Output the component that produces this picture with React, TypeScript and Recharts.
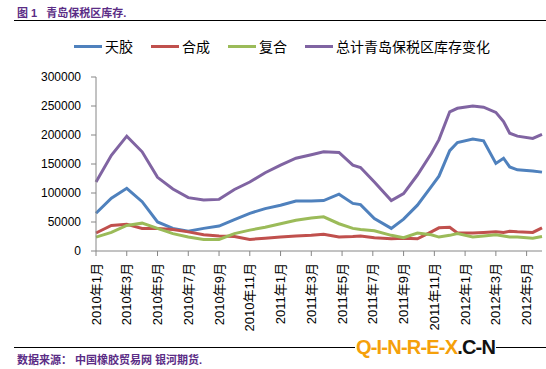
import { LineChart, Line, XAxis, YAxis } from 'recharts'

// month index from 2010年1月 (0) — points after spring 2011 are not strictly monthly
const months = [0, 1, 2, 3, 4, 5, 6, 7, 8, 9, 10, 11, 12, 13, 14, 14.8, 15.8, 16.7, 17.2, 18.1, 19.2, 20, 20.9, 21.8, 22.3, 23, 23.5, 24.5, 25.2, 26, 26.5, 26.9, 27.4, 28.4, 29]
const natural = [65, 91, 108, 85, 50, 39, 34, 39, 43, 54, 65, 73, 79, 86, 86, 87, 98, 82, 80, 56, 39, 55, 79, 111, 129, 173, 187, 193, 190, 151, 160, 145, 140, 138, 136]
const synthetic = [31, 44, 46, 39, 39, 37, 33, 28, 26, 25, 20, 22, 24, 26, 27, 29, 24, 25, 26, 23, 21, 22, 21, 33, 40, 41, 31, 31, 32, 33, 32, 34, 33, 32, 40]
const compound = [24, 32, 44, 48, 39, 30, 24, 20, 20, 30, 36, 41, 47, 53, 57, 59, 47, 39, 37, 35, 27, 23, 31, 28, 24, 27, 30, 24, 26, 28, 26, 24, 24, 22, 25]
const total = [119, 165, 198, 171, 127, 107, 92, 88, 89, 106, 119, 135, 148, 160, 166, 171, 170, 148, 144, 119, 87, 99, 131, 168, 192, 240, 246, 250, 248, 239, 223, 203, 198, 194, 201]

const tickMonths = [0, 2, 4, 6, 8, 10, 12, 14, 16, 18, 20, 22, 24, 26, 28]
const yTicks = [0, 50000, 100000, 150000, 200000, 250000, 300000]

const series = [
  { key: 'natural', name: '天胶', color: '#4f81bd', values: natural },
  { key: 'synthetic', name: '合成', color: '#c0504d', values: synthetic },
  { key: 'compound', name: '复合', color: '#9bbb59', values: compound },
  { key: 'total', name: '总计青岛保税区库存变化', color: '#8064a2', values: total },
]

const data = months.map((m, i) => {
  const row: Record<string, number> = { m }
  series.forEach(s => { row[s.key] = s.values[i] * 1000 })
  return row
})

const monthLabel = (m: number) => `${2010 + Math.floor(m / 12)}年${(m % 12) + 1}月`

const FONT = '"Liberation Sans", Arial, "Noto Sans CJK SC", sans-serif'
const PURPLE = '#5b2d86'

function XTick({ x, y, payload }: any) {
  const ty = y + 5
  return (
    <text x={x} y={ty} transform={`rotate(-90, ${x}, ${ty})`} textAnchor="end" dy="0.35em"
      fontSize={13} fill="#000" fontFamily={FONT}>
      {monthLabel(payload.value)}
    </text>
  )
}

export default function App() {
  return (
    <div style={{ position: 'absolute', left: 0, top: 0, width: 546, height: 369, background: '#fff', overflow: 'hidden', fontFamily: FONT }}>
      <div style={{ position: 'absolute', left: 17, top: 4, fontSize: 11, fontWeight: 'bold', color: PURPLE, whiteSpace: 'nowrap' }}>
        图 1&nbsp;&nbsp;&nbsp;青岛保税区库存.
      </div>
      <div style={{ position: 'absolute', left: 14, top: 20, width: 532, height: 1, background: '#000' }} />

      <div style={{ position: 'absolute', left: 0, top: 37, height: 18 }}>
        {series.map((s, i) => {
          const lefts = [74, 151, 228, 305]
          return (
            <div key={s.key} style={{ position: 'absolute', left: lefts[i], top: 0, display: 'flex', alignItems: 'center', whiteSpace: 'nowrap', height: 18 }}>
              <div style={{ width: 28, height: 3, background: s.color, marginRight: 3 }} />
              <span style={{ fontSize: 14, color: '#000', fontFamily: '"Noto Sans CJK SC", sans-serif' }}>{s.name}</span>
            </div>
          )
        })}
      </div>

      <div style={{ position: 'absolute', left: 0, top: 0 }}>
        <LineChart width={546} height={369} data={data} margin={{ top: 77, right: 4, left: 0, bottom: 0 }}>
          <XAxis dataKey="m" type="number" domain={[0, 29]} ticks={tickMonths} interval={0}
            height={118} tickSize={5} tickMargin={2} stroke="#868686" tick={<XTick />} />
          <YAxis domain={[0, 300000]} ticks={yTicks} width={96} tickSize={5} tickMargin={10}
            stroke="#868686" tick={{ fill: '#000', fontSize: 12, fontFamily: FONT }} />
          {series.map(s => (
            <Line key={s.key} dataKey={s.key} name={s.name} type="linear" stroke={s.color}
              strokeWidth={3} dot={false} isAnimationActive={false} />
          ))}
        </LineChart>
      </div>

      <div style={{ position: 'absolute', left: 14, top: 347, width: 532, height: 1, background: '#000' }} />
      <div style={{ position: 'absolute', left: 355, top: 336, fontSize: 20, fontWeight: 'bold', whiteSpace: 'nowrap', letterSpacing: -0.8, background: '#fff', padding: '0 1px', lineHeight: '22px' }}>
        <span style={{ color: '#f5a00a' }}>Q-I-N-R-E-X</span>
        <span style={{ color: '#111' }}>.C-N</span>
      </div>
      <div style={{ position: 'absolute', left: 17, top: 351, fontSize: 11, fontWeight: 'bold', color: PURPLE, whiteSpace: 'nowrap' }}>
        数据来源：&nbsp;中国橡胶贸易网 银河期货.
      </div>
    </div>
  )
}
